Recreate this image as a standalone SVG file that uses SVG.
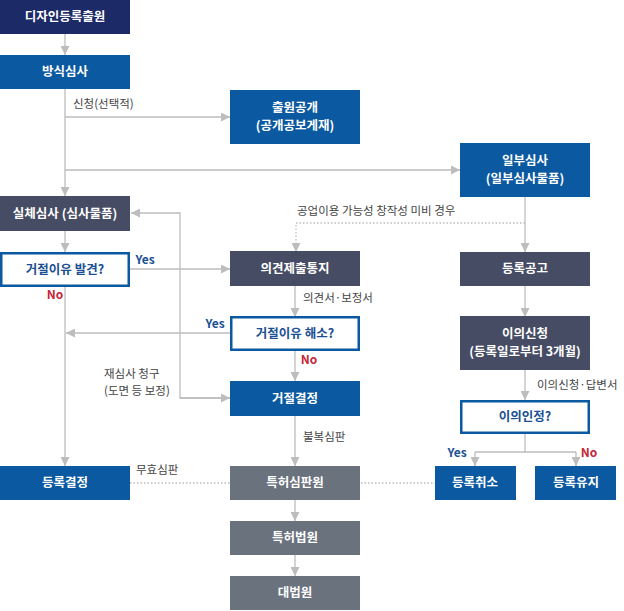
<svg xmlns="http://www.w3.org/2000/svg" width="624" height="611" viewBox="0 0 624 611">
<style>
text{font-family:"Noto Sans CJK KR","Noto Sans",sans-serif;font-size:12px;text-anchor:middle}
.w{fill:#fff;font-weight:bold;font-size:12.5px}
.b{fill:#1b4f93;font-weight:bold;font-size:12.5px}
.l{fill:#444;text-anchor:start;font-size:11.5px}
.c{fill:none;stroke:#bdbdbd;stroke-width:1.3}
.d{fill:none;stroke:#bdbdbd;stroke-width:1.3;stroke-dasharray:1.5 2}
.navy{fill:#1c2a68}.blue{fill:#0b59a0}.dg{fill:#474c65}.gr{fill:#6a727e}
.q{fill:#fff;stroke:#0b59a0;stroke-width:2.5}
.yes{fill:#1b4f93;font-weight:bold;font-size:12px}
.no{fill:#c4283a;font-weight:bold;font-size:12px}
</style>
<defs><marker id="a" viewBox="0 0 10 10" refX="10" refY="5" markerWidth="9" markerHeight="9" orient="auto" markerUnits="userSpaceOnUse"><path d="M0,0L10,5L0,10z" fill="#bdbdbd"/></marker></defs>
<rect width="624" height="611" fill="#fff"/>
<g id="connectors">
<path class="c" d="M65,34V55" marker-end="url(#a)"/>
<path class="c" d="M65,89V196" marker-end="url(#a)"/>
<path class="c" d="M65,117H230" marker-end="url(#a)"/>
<path class="c" d="M65,170H460" marker-end="url(#a)"/>
<path class="c" d="M65,231V252" marker-end="url(#a)"/>
<path class="c" d="M65,286V466" marker-end="url(#a)"/>
<path class="c" d="M130,269H230" marker-end="url(#a)"/>
<path class="c" d="M230,333H66" marker-end="url(#a)"/>
<path class="c" d="M230,398H180V213H131" marker-end="url(#a)"/>
<path class="c" d="M180,398H230" marker-end="url(#a)"/>
<path class="c" d="M295,286V317" marker-end="url(#a)"/>
<path class="c" d="M295,351V381" marker-end="url(#a)"/>
<path class="c" d="M295,416V466" marker-end="url(#a)"/>
<path class="c" d="M295,500V521" marker-end="url(#a)"/>
<path class="c" d="M295,555V576" marker-end="url(#a)"/>
<path class="c" d="M525,197V252" marker-end="url(#a)"/>
<path class="d" d="M525,223H296V252" marker-end="url(#a)"/>
<path class="c" d="M525,286V317" marker-end="url(#a)"/>
<path class="c" d="M525,370V400" marker-end="url(#a)"/>
<path class="c" d="M525,433V452M475,452H576M475,452V466M576,452V466" />
<path class="c" d="M475,458V466" marker-end="url(#a)"/>
<path class="c" d="M576,458V466" marker-end="url(#a)"/>
<path class="d" d="M130,483H435"/>
</g>
<g id="n1"><rect class="navy" x="0" y="0" width="130" height="34"/><text class="w" x="65" y="21">디자인등록출원</text></g>
<g id="n2"><rect class="blue" x="0" y="55" width="130" height="34"/><text class="w" x="65" y="76">방식심사</text></g>
<g id="n3"><rect class="blue" x="230" y="90" width="130" height="54"/><text class="w" x="295" y="112">출원공개</text><text class="w" x="295" y="130">(공개공보게재)</text></g>
<g id="n4"><rect class="blue" x="460" y="143" width="130" height="54"/><text class="w" x="525" y="165">일부심사</text><text class="w" x="525" y="183">(일부심사물품)</text></g>
<g id="n5"><rect class="dg" x="0" y="196" width="130" height="35"/><text class="w" x="65" y="218">실체심사 (심사물품)</text></g>
<g id="n6"><rect class="q" x="1.25" y="253.25" width="127.5" height="32.5"/><text class="b" x="65" y="274">거절이유 발견?</text></g>
<g id="n7"><rect class="dg" x="230" y="251" width="130" height="35"/><text class="w" x="295" y="273">의견제출통지</text></g>
<g id="n8"><rect class="dg" x="460" y="252" width="130" height="34"/><text class="w" x="525" y="273">등록공고</text></g>
<g id="n9"><rect class="q" x="231.25" y="317.25" width="127.5" height="32.5"/><text class="b" x="295" y="338">거절이유 해소?</text></g>
<g id="n10"><rect class="dg" x="460" y="316" width="130" height="54"/><text class="w" x="525" y="338">이의신청</text><text class="w" x="525" y="356">(등록일로부터 3개월)</text></g>
<g id="n11"><rect class="blue" x="230" y="381" width="130" height="35"/><text class="w" x="295" y="403">거절결정</text></g>
<g id="n12"><rect class="q" x="461.25" y="401.25" width="127.5" height="31.5"/><text class="b" x="525" y="421">이의인정?</text></g>
<g id="n13"><rect class="blue" x="0" y="466" width="130" height="34"/><text class="w" x="65" y="487">등록결정</text></g>
<g id="n14"><rect class="gr" x="230" y="466" width="130" height="34"/><text class="w" x="295" y="487">특허심판원</text></g>
<g id="n15"><rect class="blue" x="435" y="466" width="81" height="34"/><text class="w" x="475" y="487">등록취소</text></g>
<g id="n16"><rect class="blue" x="535" y="466" width="81" height="34"/><text class="w" x="576" y="487">등록유지</text></g>
<g id="n17"><rect class="gr" x="230" y="521" width="130" height="34"/><text class="w" x="295" y="542">특허법원</text></g>
<g id="n18"><rect class="gr" x="230" y="576" width="130" height="34"/><text class="w" x="295" y="597">대법원</text></g>
<g id="labels">
<text class="l" x="73" y="108">신청(선택적)</text>
<text class="l" x="297" y="215">공업이용 가능성 창작성 미비 경우</text>
<text class="yes" x="145" y="264">Yes</text>
<text class="no" x="55" y="299">No</text>
<text class="l" x="303" y="302">의견서·보정서</text>
<text class="yes" x="215" y="328">Yes</text>
<text class="no" x="309" y="364">No</text>
<text class="l" x="104" y="378">재심사 청구</text>
<text class="l" x="104" y="395">(도면 등 보정)</text>
<text class="l" x="303" y="441">불복심판</text>
<text class="l" x="136" y="474">무효심판</text>
<text class="l" x="537" y="389">이의신청·답변서</text>
<text class="yes" x="457" y="457">Yes</text>
<text class="no" x="589" y="457">No</text>
</g>
</svg>
